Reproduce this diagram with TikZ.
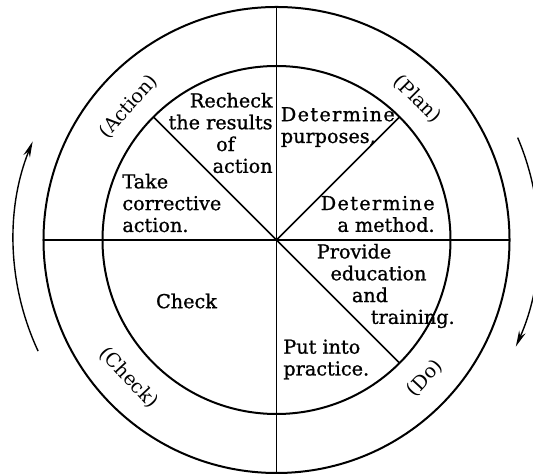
\documentclass[tikz,border=0pt]{standalone}
\usepackage{fontspec}
\setmainfont{DejaVu Serif}
\usepackage{tikz}
\usetikzlibrary{arrows.meta}
\newcommand{\widetxt}[1]{{\addfontfeature{LetterSpace=7}#1}}
\newcommand{\heavy}{\addfontfeature{FakeBold=1}}
\begin{document}
\begin{tikzpicture}[x=0.5pt,y=0.5pt,
  stage/.style={font=\fontsize{9.6}{10.9}\selectfont\heavy,inner sep=0pt,align=#1},stage/.default=center,
  phase/.style={font=\fontsize{9.6}{11}\selectfont,inner sep=0pt},
  cycle/.style={line width=0.7pt,-{Stealth[length=8pt,width=3.5pt]}}]
  \useasboundingbox (-276.5,-234) rectangle (256.5,240);
  \coordinate (O) at (0,0);
  % rings and spokes
  \draw[line width=1pt] (O) circle (233);
  \draw[line width=1pt] (O) circle (174);
  \draw[line width=0.8pt] (90:233) -- (-90:233);
  \draw[line width=0.8pt] (180:233) -- (0:233);
  \foreach \a in {135,45,-45} \draw[line width=0.8pt] (O) -- (\a:174);
  % steps
  \node[stage=right,anchor=east] (recheck) at (-3.5,107) {Recheck\\the results\\of\hphantom{tion}\\action};
  \node[stage=left,anchor=west] (purpose) at (4,113) {\widetxt{Determine}\\purposes,};
  \node[stage=left,anchor=west] (correct) at (-154.5,37) {Take\\corrective\\action.};
  \node[stage=right,anchor=east] (method) at (158.5,26) {\widetxt{Determine}\\a method.};
  \node[stage=left,anchor=west] (educate) at (40,-46) {Provide\\\hspace*{6.8pt}education\\\hspace*{17.5pt}and\\\hspace*{27pt}training.};
  \node[stage] (check) at (-90,-61) {Check};
  \node[stage=left,anchor=west] (practice) at (6.5,-119.5) {Put into\\practice.};
  % phases
  \node[phase,rotate=48] (action) at (138:199) {(Action)};
  \node[phase,rotate=-45] (plan) at (45:199) {(Plan)};
  \node[phase,rotate=47] (do) at (-43:203) {(Do)};
  \node[phase,rotate=-47] (chk) at (-137:202) {(Check)};
  % direction
  \draw[cycle] (205:263) arc[start angle=205,end angle=158,radius=263];
  \draw[cycle] (23:262) arc[start angle=23,end angle=-24,radius=262];
\end{tikzpicture}
\end{document}
